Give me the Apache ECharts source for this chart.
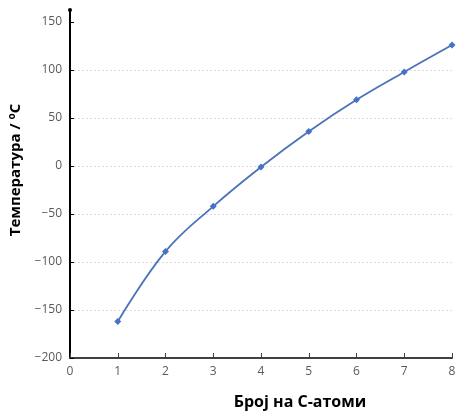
<!DOCTYPE html>
<html>
<head>
<meta charset="utf-8">
<script src="https://cdn.jsdelivr.net/npm/echarts@6/dist/echarts.min.js"></script>
<style>
  html, body { margin: 0; padding: 0; background: #fff; }
  #chart { width: 471px; height: 412px; }
</style>
</head>
<body>
<div id="chart"></div>
<script>
  // број на C-атоми и температура на вриење
  const carbonAtoms = [1, 2, 3, 4, 5, 6, 7, 8];
  const temperatures = [-162, -89, -42, -1, 36, 69, 98, 126];
  const yTicks = [-200, -150, -100, -50, 0, 50, 100, 150];

  const chart = echarts.init(document.getElementById('chart'), null, { renderer: 'canvas' });

  const option = {
    animation: false,
    grid: { left: 70, right: 19, top: 10, bottom: 54, outerBoundsMode: 'none' },
    xAxis: {
      type: 'value',
      min: 0,
      max: 8,
      interval: 1,
      name: 'Број на C-атоми',
      nameLocation: 'middle',
      nameGap: 36,
      nameTextStyle: {
        color: '#000', fontSize: 16, fontWeight: 'bold',
        fontFamily: 'Open Sans', padding: [0, 0, 0, 78]
      },
      axisLine: { onZero: false, lineStyle: { color: '#404040', width: 2 } },
      axisTick: { inside: true, length: 5, lineStyle: { color: '#404040' } },
      axisLabel: { color: '#595959', fontSize: 12, fontFamily: 'Open Sans', margin: 8 },
      splitLine: { show: false }
    },
    yAxis: {
      type: 'value',
      min: -200,
      max: 162.5,
      interval: 50,
      name: 'Температура / {sup|o}C',
      nameLocation: 'middle',
      nameGap: 44,
      nameTextStyle: {
        color: '#000', fontSize: 15, fontWeight: 'bold', fontFamily: 'Open Sans',
        padding: [0, 0, 0, 28],
        rich: { sup: { fontSize: 10, fontWeight: 'bold', verticalAlign: 'top', padding: [0, 0, 8, 0] } }
      },
      axisLine: {
        show: true, symbol: ['none', 'circle'], symbolSize: [4, 4],
        lineStyle: { color: '#000', width: 2 }
      },
      axisTick: { show: true, inside: true, length: 4, customValues: yTicks, lineStyle: { color: '#000' } },
      axisLabel: {
        color: '#595959', fontSize: 12, fontFamily: 'Open Sans', margin: 8, customValues: yTicks,
        formatter: (v) => String(v).replace('-', '\u2212')
      },
      splitLine: { show: true, showMaxLine: false, lineStyle: { color: '#dcdcdc', type: [2, 2], width: 1 } }
    },
    series: [{
      type: 'line',
      smooth: 0.4,
      data: carbonAtoms.map((c, i) => [c, temperatures[i]]),
      symbol: 'diamond',
      symbolSize: 7,
      itemStyle: { color: '#4472c4' },
      lineStyle: { color: '#4a72b8', width: 1.8 }
    }]
  };

  chart.setOption(option);
  window.addEventListener('resize', () => chart.resize());
</script>
</body>
</html>
